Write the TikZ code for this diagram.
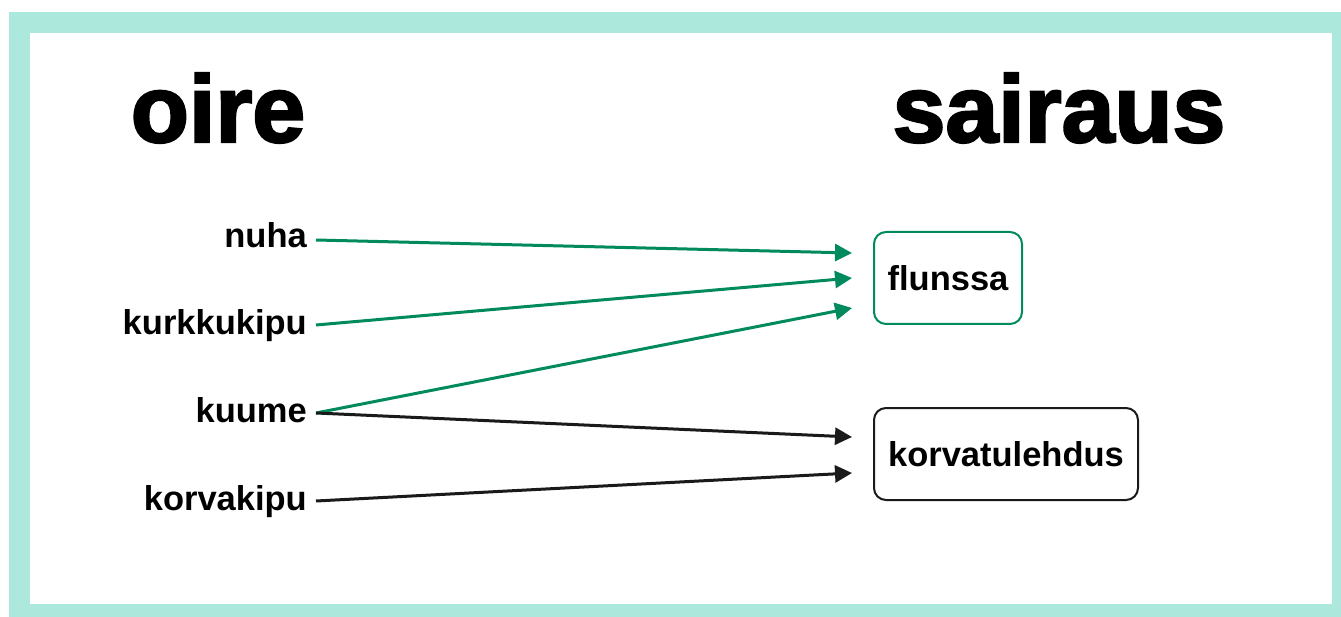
\documentclass[tikz,border=0pt]{standalone}
\usepackage{fontspec}
\setmainfont{Liberation Sans}
\newfontfamily\headfont[BoldFeatures={FakeBold=2.5}]{Liberation Sans}
\usetikzlibrary{arrows.meta,calc}
\definecolor{frame}{HTML}{ADE8DC}
\definecolor{grn}{HTML}{008A5E}
\definecolor{blk}{HTML}{1A1A1A}
\begin{document}
\begin{tikzpicture}[x=1pt,y=-1pt,
  head/.style={font=\headfont\fontsize{95}{100}\selectfont\bfseries, inner sep=0pt, anchor=base},
  lbl/.style={font=\fontsize{34.5}{38}\selectfont\bfseries, inner sep=0pt, anchor=base east},
  dbox/.style={draw, line width=2pt, rounded corners=12pt, font=\fontsize{34.5}{38}\selectfont\bfseries, inner sep=0pt},
  gline/.style={grn, line width=3pt, -{Triangle[length=17pt,width=17pt]}},
  bline/.style={blk, line width=3pt, -{Triangle[length=17pt,width=17pt]}}]
\useasboundingbox (0,0) rectangle (1341,617);
\fill[frame] (9,12) rectangle (1341,617);
\fill[white] (30,33) rectangle (1332,604);
\node[head] (oire) at (218,142) {oire};
\node[head] (sairaus) at (1059,142) {sairaus};
\node[lbl] (nuha) at (307,248) {nuha};
\node[lbl] (kurkku) at (307,335) {kurkkukipu};
\node[lbl] (kuume) at (307,422) {kuume};
\node[lbl] (korva) at (307,510) {korvakipu};
\node[dbox, grn, text=black, minimum width=148pt, minimum height=92pt] (flunssa) at (948,278) {flunssa};
\node[dbox, blk, text=black, minimum width=264pt, minimum height=92pt] (korvat) at (1006,454) {korvatulehdus};
\coordinate (f1) at (852,253);
\coordinate (f2) at (852,278);
\coordinate (f3) at (852,308);
\coordinate (k1) at (852,437);
\coordinate (k2) at (852,473);
\draw[gline] ($(nuha.base east)+(9,-8)$) -- (f1);
\draw[gline] ($(kurkku.base east)+(9,-10)$) -- (f2);
\draw[gline] ($(kuume.base east)+(9,-9)$) -- (f3);
\draw[bline] ($(kuume.base east)+(9,-9)$) -- (k1);
\draw[bline] ($(korva.base east)+(9,-9)$) -- (k2);
\end{tikzpicture}
\end{document}
